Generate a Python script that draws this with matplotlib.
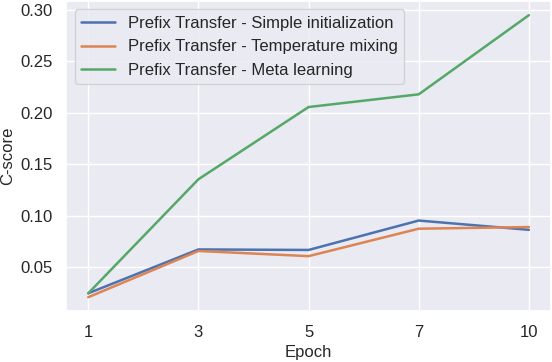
import matplotlib
matplotlib.use("Agg")
import matplotlib.pyplot as plt
import seaborn as sns

# Data
epochs = ["1", "3", "5", "7", "10"]
simple_init = [0.025, 0.0675, 0.067, 0.0955, 0.0865]
temp_mixing = [0.0212, 0.066, 0.061, 0.0876, 0.0892]
meta_learning = [0.025, 0.1355, 0.2055, 0.2178, 0.2945]

sns.set_theme(style="darkgrid")
plt.rcParams['font.family'] = ['Liberation Sans', 'DejaVu Sans']

fig, ax = plt.subplots(figsize=(5.52, 3.62), dpi=100)
x = range(len(epochs))
ax.plot(x, simple_init, lw=1.8, label="Prefix Transfer - Simple initialization")
ax.plot(x, temp_mixing, lw=1.8, label="Prefix Transfer - Temperature mixing")
ax.plot(x, meta_learning, lw=1.8, label="Prefix Transfer - Meta learning")

ax.set_xticks(list(x))
ax.set_xticklabels(epochs)
ax.set_yticks([0.05, 0.10, 0.15, 0.20, 0.25, 0.30])
ax.tick_params(labelsize=12)
ax.set_xlabel("Epoch", fontsize=12, labelpad=4)
ax.set_ylabel("C-score", fontsize=12)
ax.legend(loc="upper left", fontsize=12)

fig.subplots_adjust(left=0.12, right=0.998, top=0.997, bottom=0.14)
fig.savefig("out.png", dpi=100)
